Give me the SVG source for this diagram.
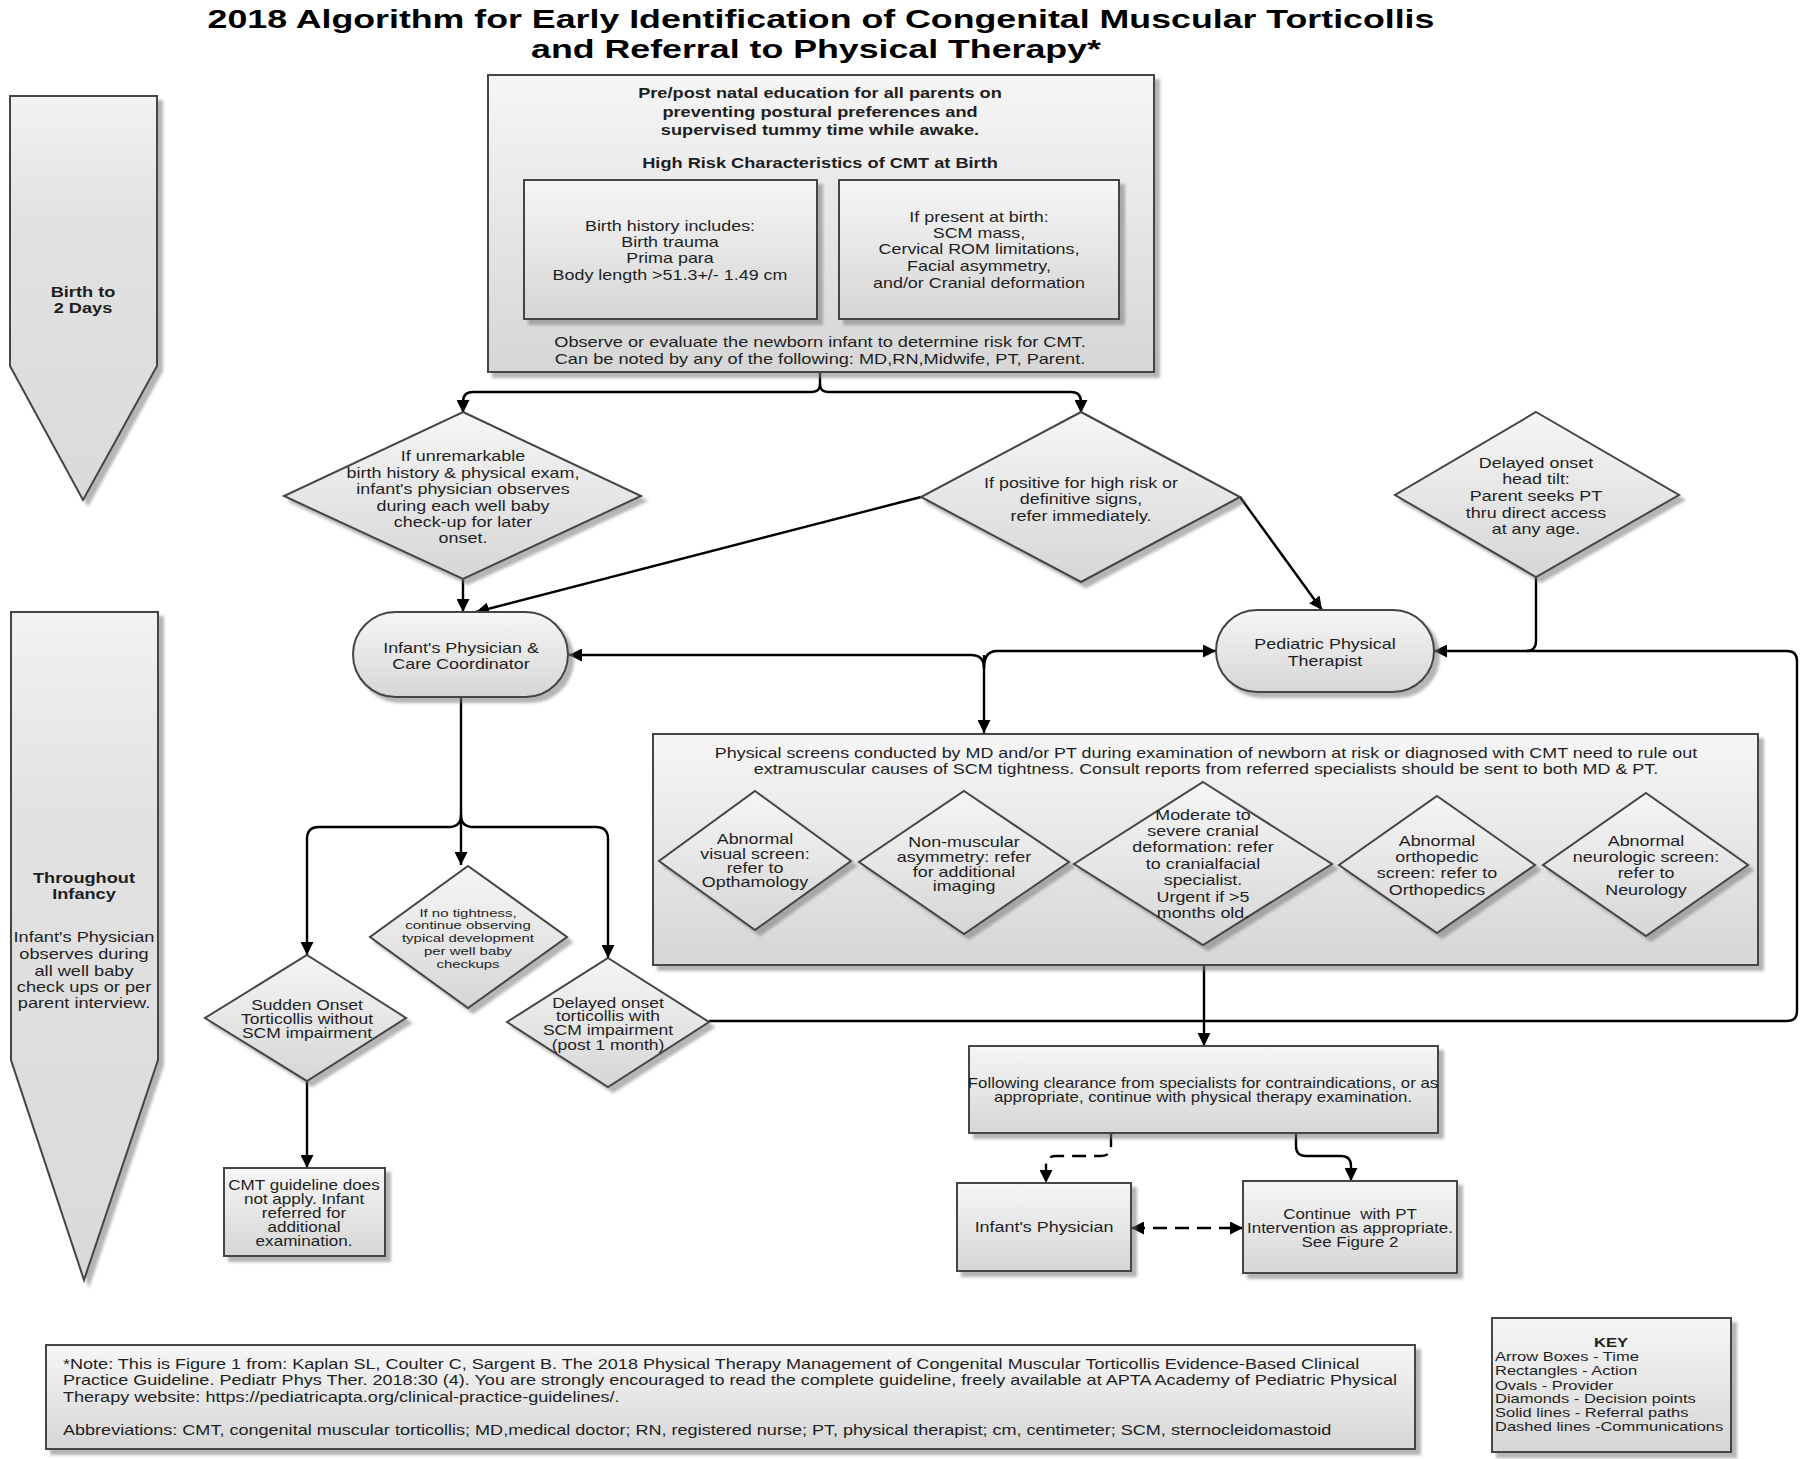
<svg xmlns="http://www.w3.org/2000/svg" width="1800" height="1459" viewBox="0 0 1800 1459">
<defs>
<linearGradient id="g" x1="0" y1="0" x2="0" y2="1">
<stop offset="0" stop-color="#f6f6f6"/>
<stop offset="1" stop-color="#d6d6d6"/>
</linearGradient>
<linearGradient id="ga" x1="0" y1="0" x2="0" y2="1">
<stop offset="0" stop-color="#f2f2f2"/>
<stop offset="0.3" stop-color="#e2e2e2"/>
<stop offset="1" stop-color="#dadada"/>
</linearGradient>
<filter id="sh" x="-10%" y="-10%" width="130%" height="130%">
<feDropShadow dx="5" dy="5" stdDeviation="1.5" flood-color="#777" flood-opacity="0.55"/>
</filter>
<marker id="ah" viewBox="0 0 12 12" refX="12" refY="6" markerWidth="13" markerHeight="13" markerUnits="userSpaceOnUse" orient="auto-start-reverse">
<path d="M0,0 L12,6 L0,12 z" fill="#000"/>
</marker>
<style>
.s{fill:url(#g);stroke:#444;stroke-width:2;filter:url(#sh)}
.sa{fill:url(#ga);stroke:#444;stroke-width:2;filter:url(#sh)}
.t{font-family:"Liberation Sans",Arial,sans-serif;font-size:14px;fill:#1e1e1e;text-anchor:middle}
.tl{font-family:"Liberation Sans",Arial,sans-serif;font-size:14px;fill:#1e1e1e;text-anchor:start}
.sm{font-size:11.5px}
.b{font-weight:bold}
.title{font-family:"Liberation Sans",Arial,sans-serif;font-size:25px;font-weight:bold;fill:#000;text-anchor:middle}
.c{fill:none;stroke:#000;stroke-width:2.4}
.ca{fill:none;stroke:#000;stroke-width:2.4;marker-end:url(#ah)}
.d{stroke-dasharray:14 8}
</style>
</defs>
<rect width="1800" height="1459" fill="#fff"/>

<g id="title">
<text class="title" transform="translate(821 0) scale(1.43 1)"><tspan x="0" y="28.5">2018 Algorithm for Early Identification of Congenital Muscular Torticollis</tspan></text>
<text class="title" transform="translate(816 0) scale(1.43 1)"><tspan x="0" y="58.5">and Referral to Physical Therapy*</tspan></text>
</g>

<g id="connectors">
<path class="c" d="M820,372 V384 Q820,392 812,392 H473 Q463,392 463,402"/>
<path class="ca" d="M463,400 V413"/>
<path class="c" d="M820,384 Q820,392 828,392 H1071 Q1081,392 1081,402"/>
<path class="ca" d="M1081,400 V413"/>
<path class="ca" d="M463,579 V612"/>
<path class="ca" d="M921,497 L476,612"/>
<path class="ca" d="M1240,497 L1322,610"/>
<path class="c" d="M1536,577 V641 Q1536,651 1526,651"/>
<path class="ca" d="M709,1021 H1787 Q1797,1021 1797,1011 V661 Q1797,651 1787,651 H1434"/>
<path class="ca" d="M984,668 Q984,655 971,655 H569"/>
<path class="ca" d="M984,668 Q984,651 997,651 H1216"/>
<path class="ca" d="M984,655 V733"/>
<path class="ca" d="M461,697 V865"/>
<path class="ca" d="M461,815 Q461,827 449,827 H319 Q307,827 307,839 V955"/>
<path class="ca" d="M461,815 Q461,827 473,827 H596 Q608,827 608,839 V958"/>
<path class="ca" d="M307,1081 V1168"/>
<path class="ca" d="M1204,965 V1046"/>
<path class="ca d" d="M1111,1133 V1146 Q1111,1156 1101,1156 H1056 Q1046,1156 1046,1166 V1183"/>
<path class="ca" d="M1296,1133 V1146 Q1296,1156 1306,1156 H1341 Q1351,1156 1351,1166 V1181"/>
<path class="ca d" d="M1131,1228 H1243" marker-start="url(#ah)"/>
</g>

<g id="time-birth">
<polygon class="sa" points="10,96 157,96 157,366 83,500 10,366"/>
<text class="t b" transform="translate(83 0) scale(1.3 1)"><tspan x="0" y="297">Birth to</tspan><tspan x="0" y="313">2 Days</tspan></text>
</g>

<g id="time-infancy">
<polygon class="sa" points="11,612 158,612 158,1060 84,1280 11,1060"/>
<text class="t b" transform="translate(84 0) scale(1.3 1)"><tspan x="0" y="883">Throughout</tspan><tspan x="0" y="899">Infancy</tspan></text>
<text class="t" transform="translate(84 0) scale(1.3 1)"><tspan x="0" y="942">Infant's Physician</tspan><tspan x="0" y="959">observes during</tspan><tspan x="0" y="976">all well baby</tspan><tspan x="0" y="992">check ups or per</tspan><tspan x="0" y="1008">parent interview.</tspan></text>
</g>

<g id="education">
<rect class="s" x="488" y="75" width="666" height="297"/>
<text class="t b" transform="translate(820 0) scale(1.3 1)"><tspan x="0" y="98">Pre/post natal education for all parents on</tspan><tspan x="0" y="117">preventing postural preferences and</tspan><tspan x="0" y="135">supervised tummy time while awake.</tspan><tspan x="0" y="168">High Risk Characteristics of CMT at Birth</tspan></text>
<text class="t" transform="translate(820 0) scale(1.3 1)"><tspan x="0" y="347">Observe or evaluate the newborn infant to determine risk for CMT.</tspan><tspan x="0" y="364">Can be noted by any of the following: MD,RN,Midwife, PT, Parent.</tspan></text>
</g>

<g id="birth-history">
<rect class="s" x="524" y="180" width="293" height="139"/>
<text class="t" transform="translate(670 0) scale(1.28 1)"><tspan x="0" y="231">Birth history includes:</tspan><tspan x="0" y="247">Birth trauma</tspan><tspan x="0" y="263">Prima para</tspan><tspan x="0" y="280">Body length &gt;51.3+/- 1.49 cm</tspan></text>
</g>

<g id="present-at-birth">
<rect class="s" x="839" y="180" width="280" height="139"/>
<text class="t" transform="translate(979 0) scale(1.28 1)"><tspan x="0" y="222">If present at birth:</tspan><tspan x="0" y="238">SCM mass,</tspan><tspan x="0" y="254">Cervical ROM limitations,</tspan><tspan x="0" y="271">Facial asymmetry,</tspan><tspan x="0" y="288">and/or Cranial deformation</tspan></text>
</g>

<g id="unremarkable">
<polygon class="s" points="463,412 641,496 463,579 284,496"/>
<text class="t" transform="translate(463 0) scale(1.28 1)"><tspan x="0" y="461">If unremarkable</tspan><tspan x="0" y="478">birth history &amp; physical exam,</tspan><tspan x="0" y="494">infant's physician observes</tspan><tspan x="0" y="511">during each well baby</tspan><tspan x="0" y="527">check-up for later</tspan><tspan x="0" y="543">onset.</tspan></text>
</g>

<g id="positive">
<polygon class="s" points="1081,412 1240,497 1081,582 921,497"/>
<text class="t" transform="translate(1081 0) scale(1.28 1)"><tspan x="0" y="488">If positive for high risk or</tspan><tspan x="0" y="504">definitive signs,</tspan><tspan x="0" y="521">refer immediately.</tspan></text>
</g>

<g id="delayed-head-tilt">
<polygon class="s" points="1536,412 1679,495 1536,577 1395,495"/>
<text class="t" transform="translate(1536 0) scale(1.28 1)"><tspan x="0" y="468">Delayed onset</tspan><tspan x="0" y="484">head tilt:</tspan><tspan x="0" y="501">Parent seeks PT</tspan><tspan x="0" y="518">thru direct access</tspan><tspan x="0" y="534">at any age.</tspan></text>
</g>

<g id="infant-physician-coordinator">
<rect class="s" x="353" y="612" width="215" height="85" rx="42.5" ry="42.5"/>
<text class="t" transform="translate(461 0) scale(1.28 1)"><tspan x="0" y="653">Infant's Physician &amp;</tspan><tspan x="0" y="669">Care Coordinator</tspan></text>
</g>

<g id="pediatric-pt">
<rect class="s" x="1216" y="610" width="218" height="82" rx="41" ry="41"/>
<text class="t" transform="translate(1325 0) scale(1.28 1)"><tspan x="0" y="649">Pediatric Physical</tspan><tspan x="0" y="666">Therapist</tspan></text>
</g>

<g id="physical-screens">
<rect class="s" x="653" y="734" width="1105" height="231"/>
<text class="t" transform="translate(1206 0) scale(1.28 1)"><tspan x="0" y="758">Physical screens conducted by MD and/or PT during examination of newborn at risk or diagnosed with CMT need to rule out</tspan><tspan x="0" y="774">extramuscular causes of SCM tightness. Consult reports from referred specialists should be sent to both MD &amp; PT.</tspan></text>
</g>

<g id="visual-screen">
<polygon class="s" points="755,791 851,861 755,930 659,861"/>
<text class="t" transform="translate(755 0) scale(1.28 1)"><tspan x="0" y="844">Abnormal</tspan><tspan x="0" y="859">visual screen:</tspan><tspan x="0" y="873">refer to</tspan><tspan x="0" y="887">Opthamology</tspan></text>
</g>

<g id="non-muscular">
<polygon class="s" points="964,791 1069,862 964,934 859,862"/>
<text class="t" transform="translate(964 0) scale(1.28 1)"><tspan x="0" y="847">Non-muscular</tspan><tspan x="0" y="862">asymmetry: refer</tspan><tspan x="0" y="877">for additional</tspan><tspan x="0" y="891">imaging</tspan></text>
</g>

<g id="cranial">
<polygon class="s" points="1203,782 1332,864 1203,945 1074,864"/>
<text class="t" transform="translate(1203 0) scale(1.28 1)"><tspan x="0" y="820">Moderate to</tspan><tspan x="0" y="836">severe cranial</tspan><tspan x="0" y="852">deformation: refer</tspan><tspan x="0" y="869">to cranialfacial</tspan><tspan x="0" y="885">specialist.</tspan><tspan x="0" y="902">Urgent if &gt;5</tspan><tspan x="0" y="918">months old.</tspan></text>
</g>

<g id="orthopedic">
<polygon class="s" points="1437,796 1535,865 1437,933 1339,865"/>
<text class="t" transform="translate(1437 0) scale(1.28 1)"><tspan x="0" y="846">Abnormal</tspan><tspan x="0" y="862">orthopedic</tspan><tspan x="0" y="878">screen: refer to</tspan><tspan x="0" y="895">Orthopedics</tspan></text>
</g>

<g id="neurologic">
<polygon class="s" points="1646,793 1748,865 1646,936 1543,865"/>
<text class="t" transform="translate(1646 0) scale(1.28 1)"><tspan x="0" y="846">Abnormal</tspan><tspan x="0" y="862">neurologic screen:</tspan><tspan x="0" y="878">refer to</tspan><tspan x="0" y="895">Neurology</tspan></text>
</g>

<g id="no-tightness">
<polygon class="s" points="468,866 567,937 468,1008 370,937"/>
<text class="t sm" transform="translate(468 0) scale(1.3 1)"><tspan x="0" y="917">If no tightness,</tspan><tspan x="0" y="929">continue observing</tspan><tspan x="0" y="942">typical development</tspan><tspan x="0" y="955">per well baby</tspan><tspan x="0" y="968">checkups</tspan></text>
</g>

<g id="sudden-onset">
<polygon class="s" points="307,955 406,1018 307,1081 205,1018"/>
<text class="t" transform="translate(307 0) scale(1.25 1)"><tspan x="0" y="1010">Sudden Onset</tspan><tspan x="0" y="1024">Torticollis without</tspan><tspan x="0" y="1038">SCM impairment</tspan></text>
</g>

<g id="delayed-torticollis">
<polygon class="s" points="608,958 709,1022 608,1087 507,1022"/>
<text class="t" transform="translate(608 0) scale(1.25 1)"><tspan x="0" y="1008">Delayed onset</tspan><tspan x="0" y="1021">torticollis with</tspan><tspan x="0" y="1035">SCM impairment</tspan><tspan x="0" y="1050">(post 1 month)</tspan></text>
</g>

<g id="cmt-not-apply">
<rect class="s" x="224" y="1168" width="161" height="88"/>
<text class="t" transform="translate(304 0) scale(1.22 1)"><tspan x="0" y="1190">CMT guideline does</tspan><tspan x="0" y="1204">not apply. Infant</tspan><tspan x="0" y="1218">referred for</tspan><tspan x="0" y="1232">additional</tspan><tspan x="0" y="1246">examination.</tspan></text>
</g>

<g id="clearance">
<rect class="s" x="969" y="1046" width="469" height="87"/>
<text class="t" transform="translate(1203 0) scale(1.2 1)"><tspan x="0" y="1088">Following clearance from specialists for contraindications, or as</tspan><tspan x="0" y="1102">appropriate, continue with physical therapy examination.</tspan></text>
</g>

<g id="infant-physician">
<rect class="s" x="957" y="1183" width="174" height="88"/>
<text class="t" transform="translate(1044 0) scale(1.28 1)"><tspan x="0" y="1232">Infant's Physician</tspan></text>
</g>

<g id="continue-pt">
<rect class="s" x="1243" y="1181" width="214" height="92"/>
<text class="t" transform="translate(1350 0) scale(1.21 1)" xml:space="preserve"><tspan x="0" y="1219">Continue  with PT</tspan><tspan x="0" y="1233">Intervention as appropriate.</tspan><tspan x="0" y="1247">See Figure 2</tspan></text>
</g>

<g id="note">
<rect class="s" x="46" y="1345" width="1369" height="104"/>
<text class="tl" transform="translate(63 0) scale(1.29 1)"><tspan x="0" y="1369">*Note: This is Figure 1 from: Kaplan SL, Coulter C, Sargent B. The 2018 Physical Therapy Management of Congenital Muscular Torticollis Evidence-Based Clinical</tspan><tspan x="0" y="1385">Practice Guideline. Pediatr Phys Ther. 2018:30 (4). You are strongly encouraged to read the complete guideline, freely available at APTA Academy of Pediatric Physical</tspan><tspan x="0" y="1402">Therapy website: https://pediatricapta.org/clinical-practice-guidelines/.</tspan><tspan x="0" y="1435">Abbreviations: CMT, congenital muscular torticollis; MD,medical doctor; RN, registered nurse; PT, physical therapist; cm, centimeter; SCM, sternocleidomastoid</tspan></text>
</g>

<g id="key">
<rect class="s" x="1492" y="1318" width="239" height="134"/>
<text class="t b" transform="translate(1611 0) scale(1.27 1)" style="font-size:13px"><tspan x="0" y="1347">KEY</tspan></text>
<text class="tl" transform="translate(1495 0) scale(1.27 1)" style="font-size:13px"><tspan x="0" y="1361">Arrow Boxes - Time</tspan><tspan x="0" y="1375">Rectangles - Action</tspan><tspan x="0" y="1390">Ovals - Provider</tspan><tspan x="0" y="1403">Diamonds - Decision points</tspan><tspan x="0" y="1417">Solid lines - Referral paths</tspan><tspan x="0" y="1431">Dashed lines -Communications</tspan></text>
</g>
</svg>
